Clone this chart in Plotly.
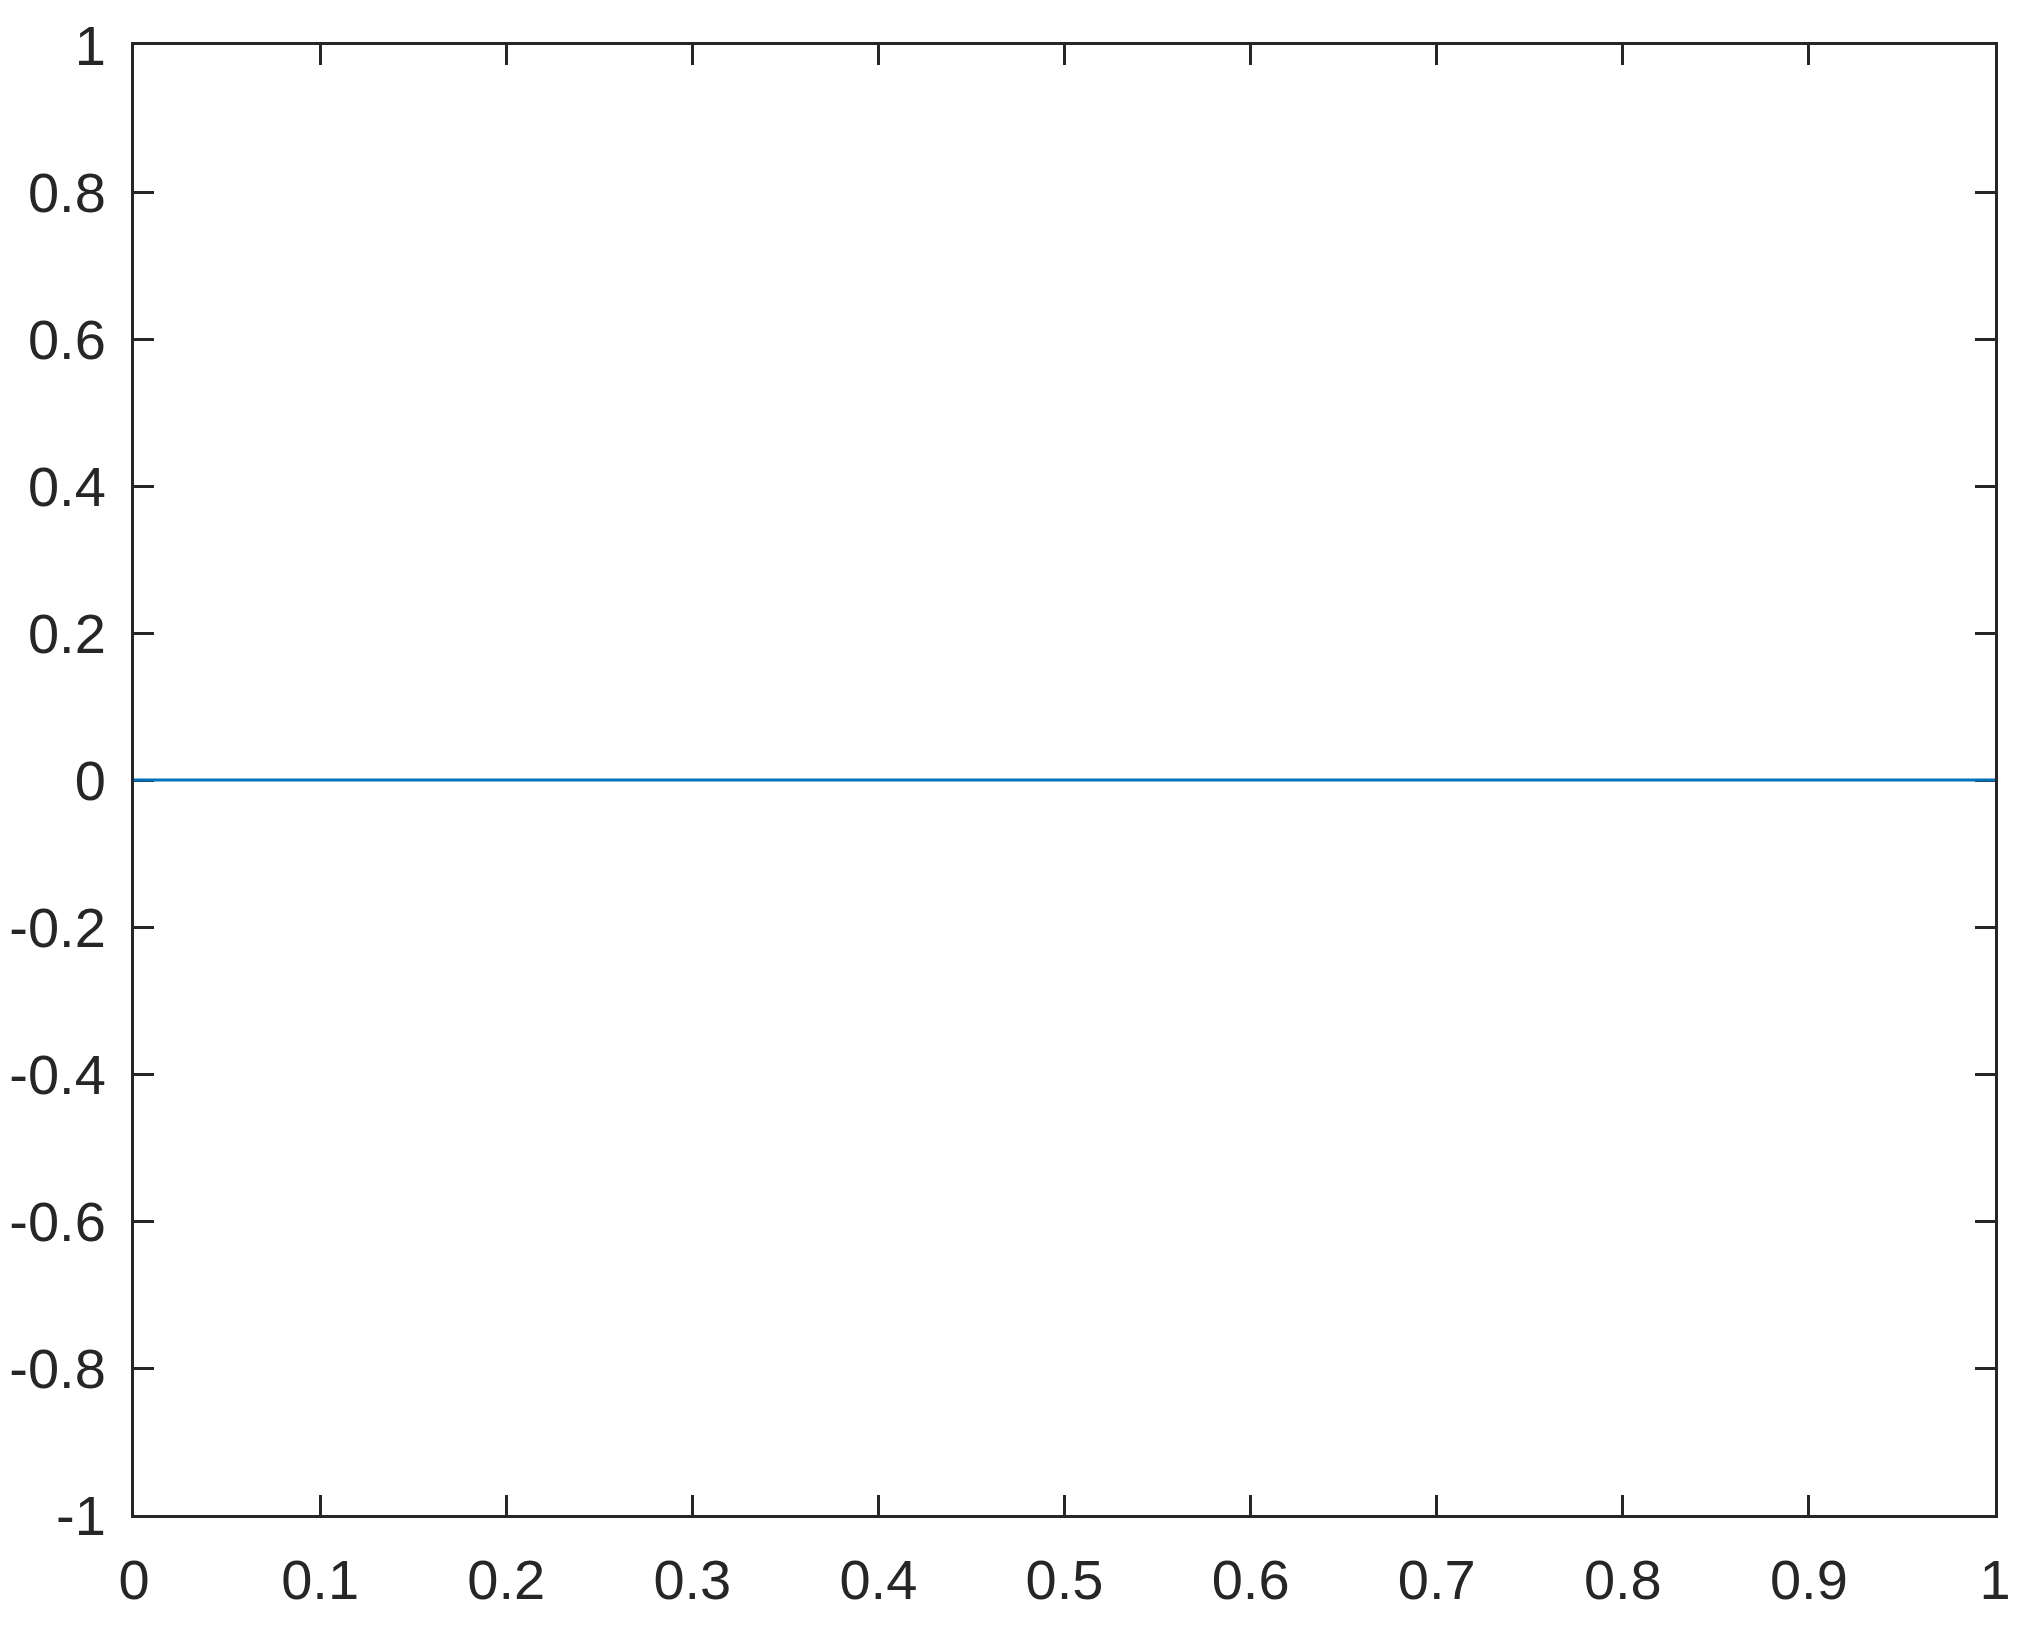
import plotly.graph_objects as go

# data: a single flat line at zero
x_vals = [0, 1]
y_vals = [0, 0]

x_ticks = [0, 0.1, 0.2, 0.3, 0.4, 0.5, 0.6, 0.7, 0.8, 0.9, 1]
x_ticktext = ["0", "0.1", "0.2", "0.3", "0.4", "0.5", "0.6", "0.7", "0.8", "0.9", "1"]
y_ticks = [-1, -0.8, -0.6, -0.4, -0.2, 0, 0.2, 0.4, 0.6, 0.8, 1]
y_ticktext = ["-1", "-0.8", "-0.6", "-0.4", "-0.2", "0", "0.2", "0.4", "0.6", "0.8", "1"]

axis_color = "#262626"

fig = go.Figure()
fig.add_trace(go.Scatter(x=x_vals, y=y_vals, mode="lines", line=dict(color="#0072BD", width=3), showlegend=False))

common_axis = dict(
    showgrid=False,
    zeroline=False,
    showline=True,
    linecolor=axis_color,
    linewidth=3,
    mirror="ticks",
    ticks="inside",
    ticklen=20,
    tickwidth=3,
    tickcolor=axis_color,
    tickfont=dict(size=56, color=axis_color, family="Liberation Sans"),
    automargin=False,
    layer="below traces",  # line sits on top of the 0 ticks
)

# page body has an 8px margin, so margins are shifted to keep the box in place
fig.update_layout(
    width=2019,
    height=1640,
    margin=dict(l=126, r=32, t=37, b=133),
    paper_bgcolor="white",
    plot_bgcolor="white",
    xaxis=dict(
        range=[0, 1],
        tickmode="array",
        tickvals=x_ticks,
        ticktext=x_ticktext,
        ticklabelstandoff=14,
        **common_axis,
    ),
    yaxis=dict(
        range=[-1, 1],
        tickmode="array",
        tickvals=y_ticks,
        ticktext=y_ticktext,
        ticklabelstandoff=14,
        **common_axis,
    ),
)

fig.write_html("out.html")
